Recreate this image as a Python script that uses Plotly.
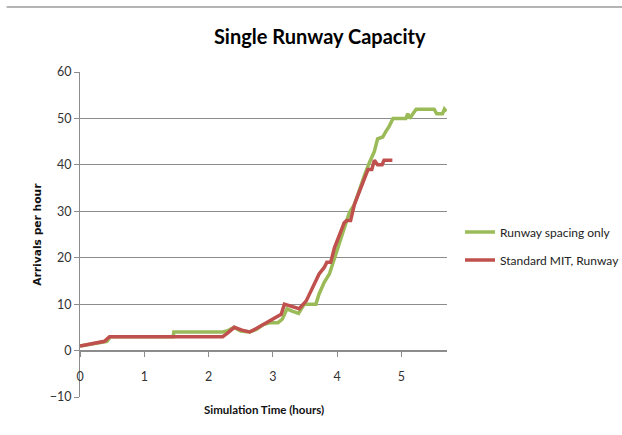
import plotly.graph_objects as go

# Data
green_x = [0, 0.38, 0.42, 0.47, 1.45, 1.46, 2.22, 2.30, 2.40, 2.50, 2.64, 2.75, 2.85, 2.95, 3.08,
           3.15, 3.22, 3.30, 3.40, 3.49, 3.67, 3.72, 3.80, 3.88, 3.96, 4.04, 4.11, 4.19, 4.27,
           4.35, 4.43, 4.50, 4.58, 4.63, 4.71, 4.76, 4.81, 4.87, 5.07, 5.10, 5.13, 5.18, 5.23,
           5.51, 5.55, 5.64, 5.67, 5.70]
green_y = [1, 2, 2, 3, 3, 4, 4, 4.3, 5, 4.2, 4, 4.6, 5.6, 6, 6,
           6.8, 9, 8.5, 8, 10, 10, 12.2, 14.7, 16.5, 20, 23.6, 26.1, 29.7, 31.5,
           35, 37.9, 40.4, 42.9, 45.6, 46, 47.2, 48.3, 50, 50, 51, 50, 51, 52,
           52, 51, 51, 52, 51.5]

red_x = [0, 0.38, 0.46, 2.22, 2.30, 2.40, 2.52, 2.64, 2.75, 2.90, 3.05, 3.13, 3.18, 3.30,
         3.41, 3.52, 3.62, 3.72, 3.80, 3.84, 3.90, 3.96, 4.04, 4.11, 4.15, 4.21, 4.27, 4.35,
         4.43, 4.48, 4.54, 4.58, 4.63, 4.70, 4.73, 4.86]
red_y = [1, 2, 3, 3, 3.8, 5, 4.4, 4, 4.8, 5.9, 7, 7.8, 10, 9.5,
         9, 10.7, 13.6, 16.5, 17.9, 19, 19, 22.2, 25, 27.5, 28, 28, 31.5, 34.3,
         36.8, 39, 39, 41, 40, 40, 41, 41]

series_names = ["Runway spacing only", "Standard MIT, Runway"]
y_ticks = [-10, 0, 10, 20, 30, 40, 50, 60]
x_ticks = [0, 1, 2, 3, 4, 5]

GREEN = "#9BBB59"
RED = "#C0504D"
GRID = "#8c8c8c"
FONT = "Lato, Open Sans, sans-serif"

fig = go.Figure()
fig.add_trace(go.Scatter(x=green_x, y=green_y, mode="lines", name=series_names[0],
                         line=dict(color=GREEN, width=3.5), legendgroup="g1"))
fig.add_trace(go.Scatter(x=red_x, y=red_y, mode="lines", name=series_names[1],
                         line=dict(color=RED, width=3.5), legendgroup="g2"))

# paper fraction of y=0 within y range [-10, 60]
zero_pos = (0 - (-10)) / 70.0

fig.update_layout(
    width=622, height=435,
    margin=dict(l=80, r=175, t=72, b=38),
    paper_bgcolor="white", plot_bgcolor="white",
    showlegend=True,
    legend=dict(xref="container", yref="container", x=460 / 622, y=1 - 246 / 435,
                xanchor="left", yanchor="middle",
                font=dict(family=FONT, size=12, color="#222"),
                tracegroupgap=9, bgcolor="rgba(0,0,0,0)"),
    title=dict(text="<b>Single Runway Capacity</b>", xref="container", x=0.514,
               yref="container", y=1 - 37 / 435, xanchor="center", yanchor="middle",
               font=dict(family=FONT, size=20, color="#000")),
    xaxis=dict(range=[0, 5.71], tickvals=x_ticks, ticktext=[str(v) for v in x_ticks],
               showgrid=False, zeroline=False, showline=True, linecolor=GRID, linewidth=1,
               anchor="free", position=zero_pos, ticks="outside", ticklen=5,
               tickcolor=GRID, ticklabelstandoff=9,
               tickfont=dict(family=FONT, size=12.5, color="#333")),
    yaxis=dict(range=[-10, 60], tickvals=y_ticks, showgrid=True, gridcolor=GRID, gridwidth=1,
               zeroline=False, showline=True, linecolor=GRID, linewidth=1,
               ticks="outside", ticklen=5, tickcolor=GRID,
               tickfont=dict(family=FONT, size=12.5, color="#333")),
    annotations=[
        dict(text="<b>Simulation Time (hours)</b>", xref="paper", yref="paper",
             x=0.50, y=-0.038, xanchor="center", yanchor="middle", showarrow=False,
             font=dict(family=FONT, size=11.5, color="#111")),
        dict(text="<b>Arrivals per hour</b>", xref="paper", yref="paper",
             x=-0.1166, y=0.50, xanchor="center", yanchor="middle", showarrow=False,
             textangle=-90, font=dict(family="DejaVu Sans, sans-serif", size=10.7,
                                      color="#111")),
    ],
    shapes=[dict(type="line", xref="paper", yref="paper", x0=-0.2, x1=1.48, y0=1.2, y1=1.2,
                 line=dict(color="#b4b4b4", width=2))],
)

fig.write_html("out.html", config={"displayModeBar": False},
               post_script="document.body.style.margin='0';")
